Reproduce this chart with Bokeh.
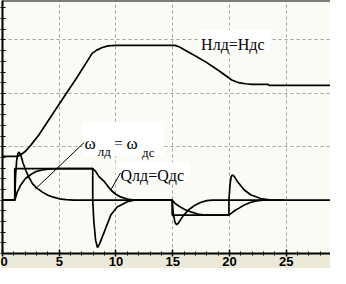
from bokeh.plotting import figure
from bokeh.models import Range1d, FixedTicker, Label, Arrow, BoxAnnotation, Span
from bokeh.embed import file_html
from bokeh.resources import INLINE

# ---------------- data ----------------
# head curve  Нлд = Ндс
h_t = [0, 1.3, 1.6, 2.0, 2.5, 3.2, 5.0, 6.5, 7.9, 8.3, 8.8, 9.3, 10.0, 15.2, 15.6, 16.1,
       17.0, 17.9, 19.1, 20.2, 20.8, 21.4, 22.0, 23.4, 23.5, 29.5]
h_v = [0.82, 0.82, 0.85, 0.91, 1.03, 1.22, 1.80, 2.28, 2.75, 2.81, 2.86, 2.89, 2.90, 2.90, 2.87, 2.81,
       2.70, 2.59, 2.42, 2.25, 2.20, 2.18, 2.17, 2.17, 2.15, 2.15]

# flow curve  Qлд = Qдс (lagged)
q_t = [0, 1.08, 1.3, 1.6, 2.0, 2.5, 3.0, 3.5, 4.0, 5.0, 7.95, 8.2, 8.5, 8.96, 9.54, 9.98, 10.4,
       11.0, 11.6, 14.95, 15.2, 15.6, 16.1, 16.6, 17.2, 17.8, 19.95, 20.2, 20.5, 20.84, 21.3,
       21.9, 22.5, 23.0]
q_v = [0, 0, 0.15, 0.28, 0.40, 0.48, 0.54, 0.565, 0.58, 0.59, 0.59, 0.54, 0.44, 0.35, 0.19, 0.11, 0.06,
       0.02, 0, 0, -0.06, -0.12, -0.18, -0.22, -0.26, -0.28, -0.28, -0.24, -0.19, -0.15, -0.09,
       -0.04, -0.01, 0]

# speed curve  ωлд = ωдс (spikes)
w_t = [0, 1.08, 1.15, 1.25, 1.35, 1.45, 1.6, 1.8, 2.05, 2.3, 2.64, 3.0, 3.52, 4.0, 4.4, 5.0, 5.6, 6.3,
       7.95, 8.05, 8.2, 8.37, 8.55, 8.96, 9.54, 10.1, 11.0, 11.6,
       14.95, 15.05, 15.2, 15.35, 15.5, 15.9, 16.4, 17.0, 17.5, 18.0, 18.5,
       19.95, 20.05, 20.15, 20.26, 20.4, 20.7, 21.3, 21.9, 22.76, 23.5, 24.8]
w_v = [0, 0, 0.45, 0.75, 0.87, 0.90, 0.85, 0.70, 0.56, 0.44, 0.31, 0.23, 0.15, 0.09, 0.06, 0.025, 0.01, 0,
       0, -0.40, -0.75, -0.89, -0.82, -0.60, -0.28, -0.13, -0.03, 0,
       0, -0.25, -0.42, -0.46, -0.43, -0.30, -0.18, -0.09, -0.04, -0.01, 0,
       0, 0.30, 0.44, 0.47, 0.45, 0.35, 0.19, 0.095, 0.03, 0.005, 0]

# setpoint step
s_t = [0, 1.08, 1.08, 7.95, 7.95, 14.95, 14.95, 19.95, 19.95, 30]
s_v = [0, 0, 0.59, 0.59, 0, 0, -0.28, -0.28, 0, 0]

x_ticks = [0, 5, 10, 15, 20, 25, 30]
x_minor = list(range(0, 31))
x_grid = [5, 10, 15, 20, 25]
y_grid = [1, 2, 3]
y_ticks = [round(-1 + 0.2 * i, 1) for i in range(25)]

h_label = "Нлд=Ндс"
q_label = "Qлд=Qдс"

# ---------------- figure ----------------
BEIGE = "#ece9d8"
PLOT_BG = "#fbfbf5"
p = figure(width=330, height=268, output_backend="svg", toolbar_location=None,
           x_range=Range1d(0, 28.9), y_range=Range1d(-1, 3.74),
           min_border_left=0, min_border_right=0, min_border_top=0, min_border_bottom=0,
           background_fill_color=PLOT_BG, border_fill_color=BEIGE)
p.outline_line_color = None

# axes
p.xaxis.ticker = FixedTicker(ticks=x_ticks, minor_ticks=x_minor)
p.xaxis.major_tick_in = 4
p.xaxis.major_tick_out = 3
p.xaxis.minor_tick_in = 2
p.xaxis.minor_tick_out = 2
p.xaxis.axis_line_width = 2
p.xaxis.major_tick_line_width = 1.5
p.xaxis.major_label_standoff = 0
p.xaxis.major_label_text_font = "Liberation Sans"
p.xaxis.major_label_text_font_style = "bold"
p.xaxis.major_label_text_font_size = "13px"
p.xaxis.major_label_text_color = "black"

# y axis: tick marks only (no labels)
p.yaxis.ticker = FixedTicker(ticks=[], minor_ticks=y_ticks)
p.yaxis.minor_tick_in = 3
p.yaxis.minor_tick_out = 2
p.yaxis.minor_tick_line_width = 1
p.yaxis.axis_line_width = 2

for ax in (p.xaxis, p.yaxis):
    ax.axis_line_color = "black"
    ax.major_tick_line_color = "black"
    ax.minor_tick_line_color = "black"

p.xgrid.ticker = FixedTicker(ticks=x_grid)
p.ygrid.ticker = FixedTicker(ticks=y_grid)
for g in (p.xgrid, p.ygrid):
    g.grid_line_color = "#a0a0a0"
    g.grid_line_dash = "3 3"
    g.grid_line_width = 1

# top border line
p.add_layout(Span(location=3.74, dimension="width", line_color="black", line_width=2))

# label boxes (white)
for l, r, b, t in [(17.4, 23.6, 2.81, 3.19), (7.05, 14.2, 0.82, 1.47), (9.96, 16.5, 0.385, 0.71)]:
    p.add_layout(BoxAnnotation(left=l, right=r, bottom=b, top=t, fill_color="white",
                               fill_alpha=1, line_color=None, level="underlay"))

# curves
LW = 1.7
p.line(s_t, s_v, line_color="black", line_width=LW)
p.line(q_t, q_v, line_color="black", line_width=LW)
p.line(w_t, w_v, line_color="black", line_width=LW)
p.line(h_t, h_v, line_color="black", line_width=LW)

# leader lines
p.add_layout(Arrow(end=None, x_start=7.2, y_start=1.08, x_end=2.9, y_end=0.21,
                   line_color="black", line_width=1))
p.add_layout(Arrow(end=None, x_start=10.4, y_start=0.51, x_end=9.54, y_end=0.19,
                   line_color="black", line_width=1))

SERIF = "Liberation Serif"
p.add_layout(Label(x=17.5, y=2.91, text=h_label, text_font=SERIF, text_font_size="16px",
                   text_color="black", text_baseline="alphabetic"))
p.add_layout(Label(x=10.4, y=0.46, text=q_label, text_font=SERIF, text_font_size="16px",
                   text_color="black", text_baseline="alphabetic"))
for x, y, txt, sz in [(7.22, 1.07, "ω", "17px"), (8.4, 0.92, "лд", "13px"),
                      (9.85, 1.07, "=", "15px"), (10.93, 1.07, "ω", "17px"),
                      (12.3, 0.90, "дс", "13px")]:
    p.add_layout(Label(x=x, y=y, text=txt, text_font=SERIF, text_font_size=sz,
                       text_color="black", text_baseline="alphabetic"))

open("out.html", "w").write(file_html(p, INLINE))
